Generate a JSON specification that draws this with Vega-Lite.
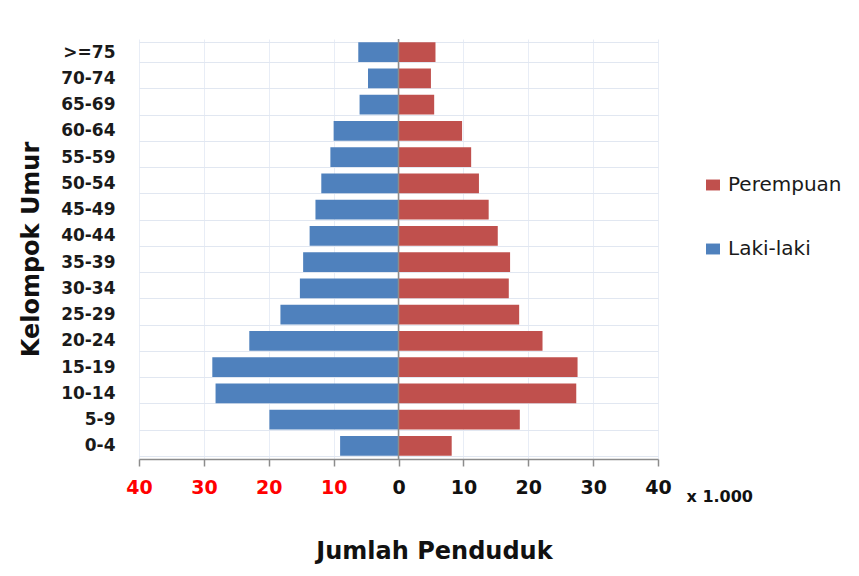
{
  "$schema": "https://vega.github.io/schema/vega-lite/v6.json",
  "width": 519,
  "height": 420,
  "autosize": "none",
  "padding": {"left": 139, "top": 39, "right": 201, "bottom": 117},
  "background": "white",
  "config": {
    "view": {"stroke": null},
    "font": "DejaVu Sans"
  },
  "title": {
    "text": "Jumlah Penduduk",
    "orient": "bottom",
    "anchor": "middle",
    "frame": "group",
    "dx": 36,
    "offset": 36,
    "font": "DejaVu Sans",
    "fontSize": 24,
    "fontWeight": "bold",
    "color": "#111111"
  },
  "data": {
    "values": [
      {"umur": ">=75", "jenis": "Laki-laki", "jumlah": -6.2},
      {"umur": ">=75", "jenis": "Perempuan", "jumlah": 5.7},
      {"umur": "70-74", "jenis": "Laki-laki", "jumlah": -4.7},
      {"umur": "70-74", "jenis": "Perempuan", "jumlah": 5.0},
      {"umur": "65-69", "jenis": "Laki-laki", "jumlah": -6.0},
      {"umur": "65-69", "jenis": "Perempuan", "jumlah": 5.5},
      {"umur": "60-64", "jenis": "Laki-laki", "jumlah": -10.0},
      {"umur": "60-64", "jenis": "Perempuan", "jumlah": 9.8},
      {"umur": "55-59", "jenis": "Laki-laki", "jumlah": -10.5},
      {"umur": "55-59", "jenis": "Perempuan", "jumlah": 11.2},
      {"umur": "50-54", "jenis": "Laki-laki", "jumlah": -11.9},
      {"umur": "50-54", "jenis": "Perempuan", "jumlah": 12.4},
      {"umur": "45-49", "jenis": "Laki-laki", "jumlah": -12.8},
      {"umur": "45-49", "jenis": "Perempuan", "jumlah": 13.9},
      {"umur": "40-44", "jenis": "Laki-laki", "jumlah": -13.7},
      {"umur": "40-44", "jenis": "Perempuan", "jumlah": 15.3},
      {"umur": "35-39", "jenis": "Laki-laki", "jumlah": -14.7},
      {"umur": "35-39", "jenis": "Perempuan", "jumlah": 17.2},
      {"umur": "30-34", "jenis": "Laki-laki", "jumlah": -15.2},
      {"umur": "30-34", "jenis": "Perempuan", "jumlah": 17.0},
      {"umur": "25-29", "jenis": "Laki-laki", "jumlah": -18.2},
      {"umur": "25-29", "jenis": "Perempuan", "jumlah": 18.6},
      {"umur": "20-24", "jenis": "Laki-laki", "jumlah": -23.0},
      {"umur": "20-24", "jenis": "Perempuan", "jumlah": 22.2},
      {"umur": "15-19", "jenis": "Laki-laki", "jumlah": -28.7},
      {"umur": "15-19", "jenis": "Perempuan", "jumlah": 27.6},
      {"umur": "10-14", "jenis": "Laki-laki", "jumlah": -28.2},
      {"umur": "10-14", "jenis": "Perempuan", "jumlah": 27.4},
      {"umur": "5-9", "jenis": "Laki-laki", "jumlah": -19.9},
      {"umur": "5-9", "jenis": "Perempuan", "jumlah": 18.7},
      {"umur": "0-4", "jenis": "Laki-laki", "jumlah": -9.0},
      {"umur": "0-4", "jenis": "Perempuan", "jumlah": 8.2}
    ]
  },
  "layer": [
    {
      "mark": {"type": "bar"},
      "encoding": {
        "y": {
          "field": "umur",
          "type": "nominal",
          "sort": [">=75", "70-74", "65-69", "60-64", "55-59", "50-54", "45-49", "40-44", "35-39", "30-34", "25-29", "20-24", "15-19", "10-14", "5-9", "0-4"],
          "scale": {"paddingInner": 0.24, "paddingOuter": 0.12},
          "axis": {
            "title": "Kelompok Umur",
            "titleFont": "DejaVu Sans",
            "titleFontSize": 24,
            "titleFontWeight": "bold",
            "titleColor": "#111111",
            "titleAngle": -90,
            "titleX": -108,
            "titleY": 210,
            "titleAlign": "center",
            "titleBaseline": "middle",
            "labelFont": "DejaVu Sans",
            "labelFontSize": 17,
            "labelFontWeight": "bold",
            "labelColor": "#1a1a1a",
            "labelPadding": 24,
            "ticks": false,
            "tickSize": 0,
            "domain": false,
            "grid": true,
            "tickBand": "extent",
            "gridColor": "#e1e7f1",
            "gridWidth": 1
          }
        },
        "x": {
          "field": "jumlah",
          "type": "quantitative",
          "scale": {"domain": [-40, 40], "nice": false},
          "axis": {
            "values": [-40, -30, -20, -10, 0, 10, 20, 30, 40],
            "labelExpr": "abs(datum.value)",
            "labelFont": "DejaVu Sans",
            "labelFontSize": 19,
            "labelFontWeight": "bold",
            "labelColor": {"condition": {"test": "datum.value < 0", "value": "#FF0000"}, "value": "#111111"},
            "labelFlush": false,
            "labelOverlap": false,
            "labelPadding": 12,
            "tickSize": 7,
            "tickColor": "#8c8c8c",
            "tickWidth": 1.5,
            "domainColor": "#8c8c8c",
            "domainWidth": 1.5,
            "grid": true,
            "gridColor": "#e8edf6",
            "title": "x 1.000",
            "titleFont": "DejaVu Sans",
            "titleFontSize": 16,
            "titleFontWeight": "bold",
            "titleColor": "#111111",
            "titleX": 547,
            "titleY": 37,
            "titleAlign": "left",
            "titleBaseline": "middle"
          }
        },
        "color": {
          "field": "jenis",
          "type": "nominal",
          "scale": {"domain": ["Perempuan", "Laki-laki"], "range": ["#C0504D", "#4F81BD"]},
          "legend": {
            "title": null,
            "orient": "none",
            "legendX": 564,
            "legendY": 136,
            "padding": 0,
            "symbolType": "M-1,-0.78H1V0.78H-1Z",
            "symbolSize": 196,
            "symbolStrokeWidth": 0,
            "labelFont": "DejaVu Sans",
            "labelFontSize": 20,
            "labelColor": "#1a1a1a",
            "labelOffset": 5,
            "rowPadding": 44
          }
        }
      }
    },
    {
      "data": {"values": [{"nol": 0}]},
      "mark": {"type": "rule", "color": "#8c8c8c", "strokeWidth": 1.5},
      "encoding": {"x": {"field": "nol", "type": "quantitative"}}
    }
  ]
}
